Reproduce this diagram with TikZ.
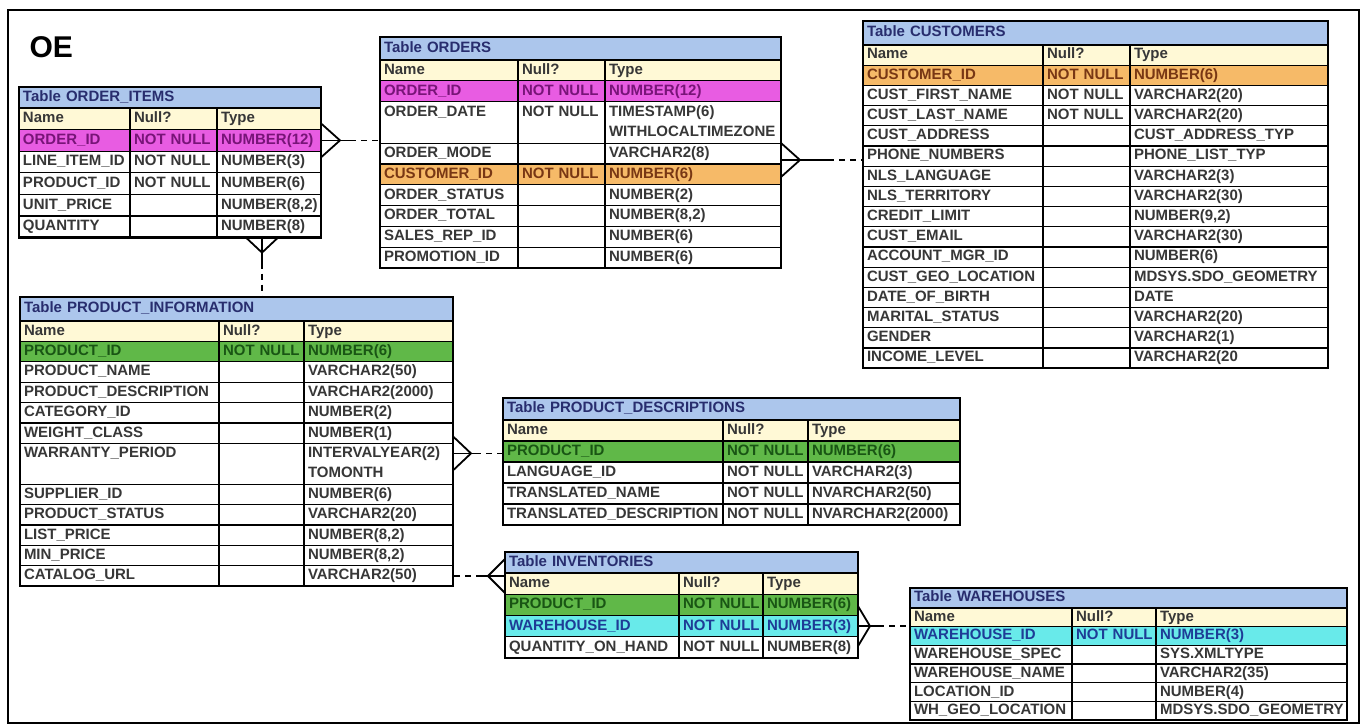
\documentclass[tikz,border=0pt]{standalone}
\usepackage{fontspec}
\setmainfont{Liberation Sans}

\definecolor{ttlfill}{RGB}{172,198,236}
\definecolor{hdrfill}{RGB}{255,249,214}
\definecolor{pkfill}{RGB}{232,92,226}
\definecolor{pktext}{RGB}{120,20,120}
\definecolor{fkfill}{RGB}{246,186,104}
\definecolor{fktext}{RGB}{120,55,20}
\definecolor{pidfill}{RGB}{96,184,72}
\definecolor{pidtext}{RGB}{25,85,20}
\definecolor{widfill}{RGB}{104,234,234}
\definecolor{widtext}{RGB}{30,60,150}
\definecolor{celltext}{RGB}{55,55,55}
\definecolor{ttltext}{RGB}{40,45,110}

\begin{document}
\begin{tikzpicture}[
        x=1pt, y=-1pt,
        cell/.style={draw, line width=1.3pt, outer sep=0pt, anchor=north west, inner xsep=4pt, inner ysep=0pt, align=left, fill=white, text=celltext, font=\fontsize{15}{20.5}\selectfont\bfseries, execute at begin node={\vphantom{Ay(}}, execute at end node={\vphantom{Ay(}}},
        tbltitle/.style={cell, fill=ttlfill, text=ttltext},
        plain/.style={},
        hdr/.style={fill=hdrfill},
        pk/.style={fill=pkfill, text=pktext},
        fk/.style={fill=fkfill, text=fktext},
        pid/.style={fill=pidfill, text=pidtext},
        wid/.style={fill=widfill, text=widtext},
        tblframe/.style={line width=2.4pt},
        rel/.style={line width=1.8pt},
        link/.style={rel, dash pattern=on 6pt off 5pt}
    ]
        \useasboundingbox (0,0) rectangle (1366,724);
        \fill[white] (0,0) rectangle (1366,724);
        \draw[line width=1.2pt] (8,10) rectangle (1359,723);

        \node[anchor=west, font=\fontsize{30}{32}\selectfont\bfseries] (oe) at (26,47) {OE};

        % Table ORDER_ITEMS
        \begin{scope}[namecol/.style={text width=103pt}, nullcol/.style={text width=79pt}, typecol/.style={text width=96pt}, row/.style={minimum height=21.6pt}]
        \node[tbltitle, text width=294pt, minimum height=21pt, alias=items-0] (items) at (19,87) {Table ORDER\_ITEMS};
        \foreach \a/\b/\c/\f [count=\i, remember=\i as \j (initially 0)] in {
            Name/Null?/Type/hdr,
            ORDER\_ID/NOT~NULL/NUMBER(12)/pk,
            LINE\_ITEM\_ID/NOT~NULL/NUMBER(3)/plain,
            PRODUCT\_ID/NOT~NULL/NUMBER(6)/plain,
            UNIT\_PRICE//{NUMBER(8,2)}/plain,
            QUANTITY//NUMBER(8)/plain}{
            \node[cell, namecol, row, \f] (items-\i) at (items-\j.south west) {\a};
            \node[cell, nullcol, row, \f] (items-\i-n) at (items-\i.north east) {\b};
            \node[cell, typecol, row, \f] (items-\i-t) at (items-\i-n.north east) {\c};
        }
        \draw[tblframe] (items.north west) rectangle (items-6-t.south east);
        \end{scope}

        % Table ORDERS
        \begin{scope}[namecol/.style={text width=130pt}, nullcol/.style={text width=79pt}, typecol/.style={text width=168pt}, row/.style={minimum height=20.8pt}, dbl/.style={minimum height=41.6pt}]
        \node[tbltitle, text width=393pt, minimum height=23pt, alias=ord-0] (ord) at (380,37) {Table ORDERS};
        \foreach \a/\b/\c/\f [count=\i, remember=\i as \j (initially 0)] in {
            Name/Null?/Type/hdr,
            ORDER\_ID/NOT~NULL/NUMBER(12)/pk,
            ORDER\_DATE\\~/NOT~NULL\\~/{TIMESTAMP(6)\\WITHLOCALTIMEZONE}/dbl,
            ORDER\_MODE//VARCHAR2(8)/plain,
            CUSTOMER\_ID/NOT~NULL/NUMBER(6)/fk,
            ORDER\_STATUS//NUMBER(2)/plain,
            ORDER\_TOTAL//{NUMBER(8,2)}/plain,
            SALES\_REP\_ID//NUMBER(6)/plain,
            PROMOTION\_ID//NUMBER(6)/plain}{
            \node[cell, namecol, row, \f] (ord-\i) at (ord-\j.south west) {\a};
            \node[cell, nullcol, row, \f] (ord-\i-n) at (ord-\i.north east) {\b};
            \node[cell, typecol, row, \f] (ord-\i-t) at (ord-\i-n.north east) {\c};
        }
        \draw[tblframe] (ord.north west) rectangle (ord-9-t.south east);
        \end{scope}

        % Table CUSTOMERS
        \begin{scope}[namecol/.style={text width=172pt}, nullcol/.style={text width=79pt}, typecol/.style={text width=190pt}, row/.style={minimum height=20.2pt}]
        \node[tbltitle, text width=457pt, minimum height=24pt, alias=cust-0] (cust) at (863,21) {Table CUSTOMERS};
        \foreach \a/\b/\c/\f [count=\i, remember=\i as \j (initially 0)] in {
            Name/Null?/Type/hdr,
            CUSTOMER\_ID/NOT~NULL/NUMBER(6)/fk,
            CUST\_FIRST\_NAME/NOT~NULL/VARCHAR2(20)/plain,
            CUST\_LAST\_NAME/NOT~NULL/VARCHAR2(20)/plain,
            CUST\_ADDRESS//CUST\_ADDRESS\_TYP/plain,
            PHONE\_NUMBERS//PHONE\_LIST\_TYP/plain,
            NLS\_LANGUAGE//VARCHAR2(3)/plain,
            NLS\_TERRITORY//VARCHAR2(30)/plain,
            CREDIT\_LIMIT//{NUMBER(9,2)}/plain,
            CUST\_EMAIL//VARCHAR2(30)/plain,
            ACCOUNT\_MGR\_ID//NUMBER(6)/plain,
            CUST\_GEO\_LOCATION//MDSYS.SDO\_GEOMETRY/plain,
            DATE\_OF\_BIRTH//DATE/plain,
            MARITAL\_STATUS//VARCHAR2(20)/plain,
            GENDER//VARCHAR2(1)/plain,
            INCOME\_LEVEL//VARCHAR2(20/plain}{
            \node[cell, namecol, row, \f] (cust-\i) at (cust-\j.south west) {\a};
            \node[cell, nullcol, row, \f] (cust-\i-n) at (cust-\i.north east) {\b};
            \node[cell, typecol, row, \f] (cust-\i-t) at (cust-\i-n.north east) {\c};
        }
        \draw[tblframe] (cust.north west) rectangle (cust-16-t.south east);
        \end{scope}

        % Table PRODUCT_INFORMATION
        \begin{scope}[namecol/.style={text width=191pt}, nullcol/.style={text width=77pt}, typecol/.style={text width=141pt}, row/.style={minimum height=20.4pt}, dbl/.style={minimum height=40.8pt}]
        \node[tbltitle, text width=425pt, minimum height=24pt, alias=pi-0] (pi) at (20,297) {Table PRODUCT\_INFORMATION};
        \foreach \a/\b/\c/\f [count=\i, remember=\i as \j (initially 0)] in {
            Name/Null?/Type/hdr,
            PRODUCT\_ID/NOT~NULL/NUMBER(6)/pid,
            PRODUCT\_NAME//VARCHAR2(50)/plain,
            PRODUCT\_DESCRIPTION//VARCHAR2(2000)/plain,
            CATEGORY\_ID//NUMBER(2)/plain,
            WEIGHT\_CLASS//NUMBER(1)/plain,
            WARRANTY\_PERIOD\\~//{INTERVALYEAR(2)\\TOMONTH}/dbl,
            SUPPLIER\_ID//NUMBER(6)/plain,
            PRODUCT\_STATUS//VARCHAR2(20)/plain,
            LIST\_PRICE//{NUMBER(8,2)}/plain,
            MIN\_PRICE//{NUMBER(8,2)}/plain,
            CATALOG\_URL//VARCHAR2(50)/plain}{
            \node[cell, namecol, row, \f] (pi-\i) at (pi-\j.south west) {\a};
            \node[cell, nullcol, row, \f] (pi-\i-n) at (pi-\i.north east) {\b};
            \node[cell, typecol, row, \f] (pi-\i-t) at (pi-\i-n.north east) {\c};
        }
        \draw[tblframe] (pi.north west) rectangle (pi-12-t.south east);
        \end{scope}

        % Table PRODUCT_DESCRIPTIONS
        \begin{scope}[namecol/.style={text width=212pt}, nullcol/.style={text width=77pt}, typecol/.style={text width=144pt}, row/.style={minimum height=21pt}]
        \node[tbltitle, text width=449pt, minimum height=22pt, alias=pd-0] (pd) at (503,398) {Table PRODUCT\_DESCRIPTIONS};
        \foreach \a/\b/\c/\f [count=\i, remember=\i as \j (initially 0)] in {
            Name/Null?/Type/hdr,
            PRODUCT\_ID/NOT~NULL/NUMBER(6)/pid,
            LANGUAGE\_ID/NOT~NULL/VARCHAR2(3)/plain,
            TRANSLATED\_NAME/NOT~NULL/NVARCHAR2(50)/plain,
            TRANSLATED\_DESCRIPTION/NOT~NULL/NVARCHAR2(2000)/plain}{
            \node[cell, namecol, row, \f] (pd-\i) at (pd-\j.south west) {\a};
            \node[cell, nullcol, row, \f] (pd-\i-n) at (pd-\i.north east) {\b};
            \node[cell, typecol, row, \f] (pd-\i-t) at (pd-\i-n.north east) {\c};
        }
        \draw[tblframe] (pd.north west) rectangle (pd-5-t.south east);
        \end{scope}

        % Table INVENTORIES
        \begin{scope}[namecol/.style={text width=166pt}, nullcol/.style={text width=76pt}, typecol/.style={text width=87pt}, row/.style={minimum height=21.25pt}]
        \node[tbltitle, text width=345pt, minimum height=21pt, alias=inv-0] (inv) at (505,552) {Table INVENTORIES};
        \foreach \a/\b/\c/\f [count=\i, remember=\i as \j (initially 0)] in {
            Name/Null?/Type/hdr,
            PRODUCT\_ID/NOT~NULL/NUMBER(6)/pid,
            WAREHOUSE\_ID/NOT~NULL/NUMBER(3)/wid,
            QUANTITY\_ON\_HAND/NOT~NULL/NUMBER(8)/plain}{
            \node[cell, namecol, row, \f] (inv-\i) at (inv-\j.south west) {\a};
            \node[cell, nullcol, row, \f] (inv-\i-n) at (inv-\i.north east) {\b};
            \node[cell, typecol, row, \f] (inv-\i-t) at (inv-\i-n.north east) {\c};
        }
        \draw[tblframe] (inv.north west) rectangle (inv-4-t.south east);
        \end{scope}

        % Table WAREHOUSES
        \begin{scope}[namecol/.style={text width=154pt}, nullcol/.style={text width=76pt}, typecol/.style={text width=183pt}, row/.style={minimum height=18.7pt}]
        \node[tbltitle, text width=429pt, minimum height=20pt, alias=wh-0] (wh) at (910,588) {Table WAREHOUSES};
        \foreach \a/\b/\c/\f [count=\i, remember=\i as \j (initially 0)] in {
            Name/Null?/Type/hdr,
            WAREHOUSE\_ID/NOT~NULL/NUMBER(3)/wid,
            WAREHOUSE\_SPEC//SYS.XMLTYPE/plain,
            WAREHOUSE\_NAME//VARCHAR2(35)/plain,
            LOCATION\_ID//NUMBER(4)/plain,
            WH\_GEO\_LOCATION//MDSYS.SDO\_GEOMETRY/plain}{
            \node[cell, namecol, row, \f] (wh-\i) at (wh-\j.south west) {\a};
            \node[cell, nullcol, row, \f] (wh-\i-n) at (wh-\i.north east) {\b};
            \node[cell, typecol, row, \f] (wh-\i-t) at (wh-\i-n.north east) {\c};
        }
        \draw[tblframe] (wh.north west) rectangle (wh-6-t.south east);
        \end{scope}

        % Relations (crow's foot on the many side)
        % ORDER_ITEMS -- ORDERS
        \draw[rel] ([yshift=17pt]items-2-t.east) -- ++(19,17) coordinate (ft1) -- ++(-19,17);
        \draw[rel] (items-2-t.east) -- (ft1) -- ++(10,0) coordinate (ft1b);
        \draw[link] (ft1b) -- (ft1b -| ord-3.west);

        % ORDERS -- CUSTOMERS
        \draw[rel] ([yshift=21pt]ord-4-t.south east) -- ++(19,17) coordinate (ft2) -- ++(-19,17);
        \draw[rel] ([yshift=4pt]ord-4-t.south east) -- (ft2) -- ++(28,0) coordinate (ft2b);
        \draw[link] (ft2b) -- (ft2b -| cust-6.west);

        % ORDER_ITEMS -- PRODUCT_INFORMATION
        \draw[rel] ([xshift=-23pt]items-6-t.south) -- ++(16,15) coordinate (ft3) -- ++(16,-15);
        \draw[rel] (ft3 |- items-6-t.south) -- (ft3) -- ++(0,10) coordinate (ft3b);
        \draw[link] (ft3b) -- (ft3b |- pi.north);

        % PRODUCT_INFORMATION -- PRODUCT_DESCRIPTIONS
        \draw[rel] ([yshift=7pt]pi-7-t.north east) -- ++(18,17) coordinate (ft4) -- ++(-18,17);
        \draw[rel] ([yshift=-10pt]pi-7-t.north east) -- (ft4) -- ++(4,0) coordinate (ft4b);
        \draw[link] (ft4b) -- (ft4b -| pd-2.west);

        % PRODUCT_INFORMATION -- INVENTORIES
        \coordinate (invin) at (pi-12-t.east -| inv.west);
        \draw[rel] (invin) ++(0,-17) -- ++(-17,17) coordinate (ft5) -- ++(17,17);
        \draw[rel] (invin) -- (ft5) -- ++(-6,0) coordinate (ft5b);
        \draw[link] (ft5b) -- (ft5b -| pi-12-t.east);

        % INVENTORIES -- WAREHOUSES
        \draw[rel] ([yshift=20pt]inv-3-t.east) -- ++(12,20) coordinate (ft6) -- ++(-12,20);
        \draw[rel] (inv-3-t.east) -- (ft6) -- ++(8,0) coordinate (ft6b);
        \draw[link] (ft6b) -- (ft6b -| wh-2.west);
    \end{tikzpicture}
\end{document}
